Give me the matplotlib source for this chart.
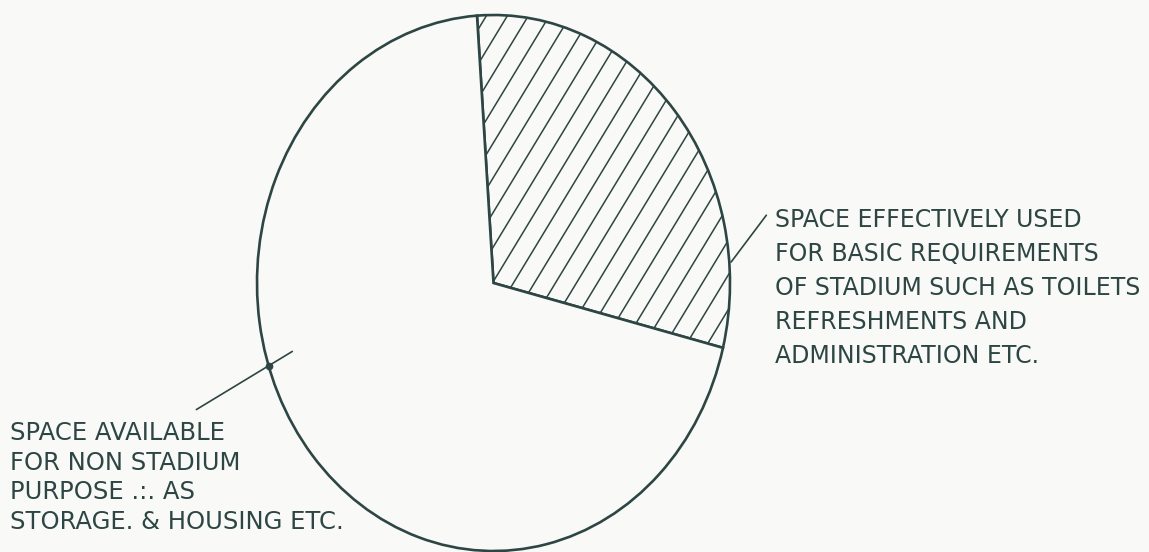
import numpy as np
import matplotlib.pyplot as plt

# share of stadium space
labels = ['SPACE EFFECTIVELY USED\nFOR BASIC REQUIREMENTS\nOF STADIUM SUCH AS TOILETS\nREFRESHMENTS AND\nADMINISTRATION ETC.',
          'SPACE AVAILABLE\nFOR NON STADIUM\nPURPOSE .:. AS\nSTORAGE. & HOUSING ETC.']
shares = [30, 70]
start_angle = 94

ink = '#2d4644'
paper = '#f9f9f7'

fig = plt.figure(figsize=(11.49, 5.52), dpi=100, facecolor=paper)
ax = fig.add_axes([257/1149, 1 - 551/552, 473/1149, 536/552])
ax.set_facecolor('none')

wedges, _ = ax.pie(shares, startangle=start_angle, counterclock=False,
                   colors=[paper, paper],
                   wedgeprops=dict(edgecolor=ink, linewidth=1.9))
ax.set_aspect('auto')
ax.set_xlim(-1.0, 1.0)
ax.set_ylim(-1.0, 1.0)
ax.axis('off')

# hand drawn hatching of the used part, steeper than matplotlib's '/'
slope = 1.65 * 473 / 536
step = 21 / 473
for x0 in np.arange(-1.0, 1.5, step):
    ln, = ax.plot([x0, x0 + 1 / slope], [0, 1], color=ink, lw=1.1,
                  transform=ax.transAxes)
    ln.set_clip_path(wedges[0])

# leader lines from the notes to the pie rim
def rim(deg):
    a = np.deg2rad(deg)
    return np.cos(a), np.sin(a)

ax.annotate('', xy=rim(4), xytext=(768/1149, 1 - 213/552),
            textcoords='figure fraction',
            arrowprops=dict(arrowstyle='-', color=ink, lw=1.2))

# left leader crosses the rim and runs on a little
start = np.array([194, 552 - 411], dtype=float)
hit = ax.transData.transform(rim(198))
end = hit + 0.35 * (hit - start)
inv = fig.transFigure.inverted()
ax.annotate('', xy=inv.transform(end), xycoords='figure fraction',
            xytext=inv.transform(start), textcoords='figure fraction',
            arrowprops=dict(arrowstyle='-', color=ink, lw=1.2))
ax.plot(*rim(198), 'o', color=ink, ms=4.5)

fig.text(775/1149, 1 - 208/552, labels[0], ha='left', va='top',
         color=ink, fontsize=17, linespacing=1.52, family='DejaVu Sans')
fig.text(10/1149, 1 - 421/552, labels[1], ha='left', va='top',
         color=ink, fontsize=17.5, linespacing=1.3, family='DejaVu Sans')

fig.savefig('out.png', dpi=100, facecolor=paper)
